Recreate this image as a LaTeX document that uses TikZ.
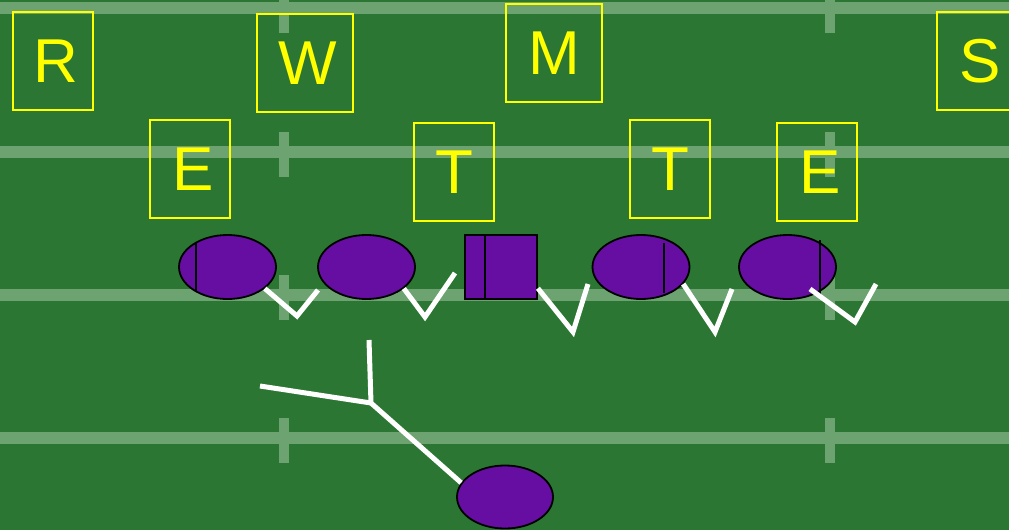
\documentclass[tikz,border=0pt]{standalone}
\usepackage{fontspec}
\setmainfont{Liberation Sans}
\usetikzlibrary{shapes.geometric}
\definecolor{grass}{RGB}{43,118,50}
\definecolor{fieldline}{RGB}{108,163,112}
\definecolor{vikpurple}{RGB}{102,14,162}
\definecolor{defyellow}{RGB}{255,255,0}
\tikzset{
  yardline/.style={draw=fieldline, line width=12pt},
  hashmark/.style={draw=fieldline, line width=10pt},
  defbox/.style={draw=defyellow, line width=1.5pt, text=defyellow, minimum width=80pt, minimum height=98pt, inner sep=0pt, font=\fontsize{62}{62}\selectfont},
  oline/.style={ellipse, draw=black, line width=1.8pt, fill=vikpurple, minimum width=97pt, minimum height=64pt, inner sep=0pt},
  center/.style={rectangle, draw=black, line width=1.8pt, fill=vikpurple, minimum width=72pt, minimum height=64pt, inner sep=0pt},
  markline/.style={draw=black, line width=1.6pt},
  route/.style={draw=white, line width=5pt, line join=miter, line cap=butt},
}
\newcommand{\sh}{\hspace{6pt}}
\begin{document}
\begin{tikzpicture}[x=1pt, y=-1pt]
\clip (0,0) rectangle (1009,530);
\fill[grass] (0,0) rectangle (1009,530);
% yard lines
\foreach \yy in {8,152,295,438} {
  \draw[yardline] (0,\yy) -- (1009,\yy);
}
% hash marks
\foreach \yy in {8,152,295,438} {
  \draw[hashmark] (284,\yy-20) -- (284,\yy+25);
  \draw[hashmark] (830,\yy-20) -- (830,\yy+25);
}
% defenders
\node[defbox, minimum width=80pt] (R) at (53,61) {\sh R};
\node[defbox, minimum width=96pt] (W) at (305,63) {\sh W};
\node[defbox, minimum width=96pt] (M) at (554,53) {M};
\node[defbox, minimum width=80pt] (S) at (977,61) {\sh S};
\node[defbox] (E1) at (190,169) {\sh E};
\node[defbox] (T1) at (454,172) {T};
\node[defbox] (T2) at (670,169) {T};
\node[defbox] (E2) at (817,172) {\sh E};
% offensive line
\node[oline] (e1) at (227.5,267) {};
\node[oline] (e2) at (366.5,267) {};
\node[center] (c) at (501,267) {};
\node[oline] (e4) at (641,267) {};
\node[oline] (e5) at (787.5,267) {};
\node[oline, minimum width=96pt, minimum height=63pt] (qb) at (505,497) {};
% marks inside players
\draw[markline] (196,242) -- (196,292);
\draw[markline] (485,235) -- (485,299);
\draw[markline] (664,243) -- (664,293);
\draw[markline] (820,240) -- (820,294);
% blocking routes
\coordinate (v1) at (297,316); \coordinate (t1) at (318,290);
\coordinate (v2) at (425,317); \coordinate (t2) at (455,273);
\coordinate (v3) at (573,332); \coordinate (t3) at (588,284);
\coordinate (v4) at (715,332); \coordinate (t4) at (732,289);
\coordinate (v5) at (855,322); \coordinate (t5) at (876,284);
\coordinate (s5) at (810,289);
\draw[route] (e1.-30) -- (v1) -- (t1);
\draw[route] (e2.-30) -- (v2) -- (t2);
\draw[route] (c.-30) -- (v3) -- (t3);
\draw[route] (e4.-22) -- (v4) -- (t4);
\draw[route] (s5) -- (v5) -- (t5);
% quarterback route
\coordinate (j) at (371,403);
\coordinate (up) at (369,340);
\coordinate (lf) at (260,386);
\draw[route] (qb.162) -- (j) -- (up);
\draw[route] (lf) -- (j);
\end{tikzpicture}
\end{document}
